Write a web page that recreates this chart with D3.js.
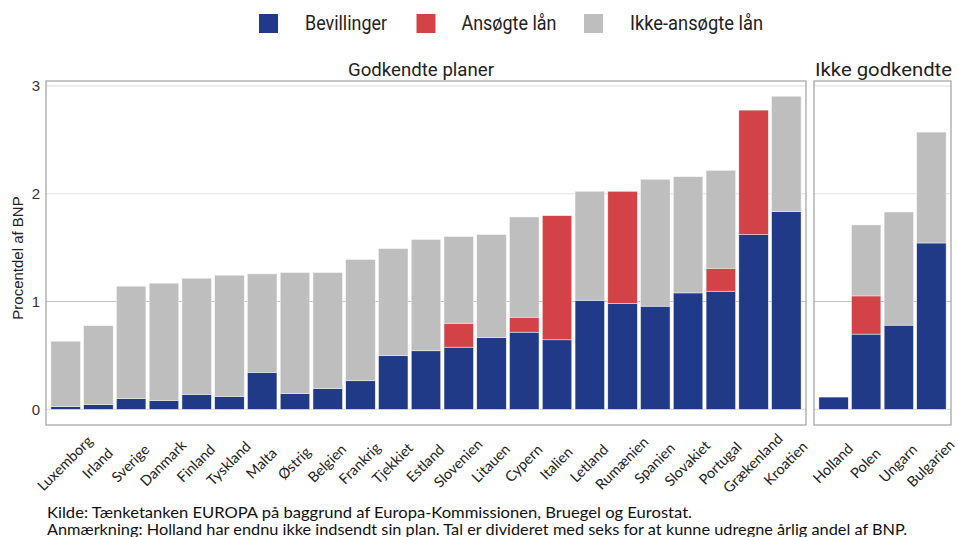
<!DOCTYPE html>
<html><head><meta charset="utf-8">
<script src="https://cdn.jsdelivr.net/npm/d3@7"></script>
<style>body{margin:0;background:#fff}svg{display:block}</style>
</head><body>
<svg id="c" width="958" height="537"></svg>
<script>
const leftCountries = ["Luxemborg","Irland","Sverige","Danmark","Finland","Tyskland","Malta","Østrig","Belgien","Frankrig","Tjekkiet","Estland","Slovenien","Litauen","Cypern","Italien","Letland","Rumænien","Spanien","Slovakiet","Portugal","Grækenland","Kroatien"];
const leftBevillinger = [0.025,0.043,0.10,0.08,0.139,0.12,0.343,0.145,0.194,0.265,0.497,0.543,0.577,0.664,0.716,0.645,1.012,0.984,0.957,1.08,1.096,1.62,1.833];
const leftAnsogte     = [0,0,0,0,0,0,0,0,0,0,0,0,0.222,0,0.139,1.151,0,1.038,0,0,0.213,1.155,0];
const leftIkke        = [0.607,0.732,1.042,1.09,1.077,1.124,0.913,1.123,1.074,1.124,0.993,1.031,0.803,0.956,0.929,0,1.01,0,1.176,1.077,0.907,0,1.071];

const rightCountries = ["Holland","Polen","Ungarn","Bulgarien"];
const rightBevillinger = [0.114,0.698,0.781,1.543];
const rightAnsogte     = [0,0.354,0,0];
const rightIkke        = [0,0.658,1.049,1.028];

const seriesKeys = ["Bevillinger","Ansøgte lån","Ikke-ansøgte lån"];
const seriesColors = ["#213A87","#D34246","#BEBEBE"];
const yTicks = [0,1,2,3];
const panelTitles = ["Godkendte planer","Ikke godkendte"];
const yTitle = "Procentdel af BNP";
const captions = ["Kilde: Tænketanken EUROPA på baggrund af Europa-Kommissionen, Bruegel og Eurostat.",
"Anmærkning: Holland har endnu ikke indsendt sin plan. Tal er divideret med seks for at kunne udregne årlig andel af BNP."];

const svg = d3.select("#c");
const color = d3.scaleOrdinal().domain(seriesKeys).range(seriesColors);
const y = d3.scaleLinear().domain([-0.145, 3.045]).range([425, 81]);

function rows(cs, b, a, k){
  return cs.map((c,i)=>({country:c, "Bevillinger":b[i], "Ansøgte lån":a[i], "Ikke-ansøgte lån":k[i]}));
}
const stack = d3.stack().keys(seriesKeys);

const panels = [
  {data: rows(leftCountries,leftBevillinger,leftAnsogte,leftIkke), x0:46, x1:806, title:panelTitles[0], tx:421, tw:146},
  {data: rows(rightCountries,rightBevillinger,rightAnsogte,rightIkke), x0:814, x1:951, title:panelTitles[1], tx:883.5, tw:137}
];

panels.forEach((p, pi)=>{
  const x = d3.scaleBand().domain(p.data.map(d=>d.country)).range([p.x0,p.x1]).paddingInner(0.1).paddingOuter(0.15);
  const g = svg.append("g");
  g.selectAll("line.grid").data(yTicks).join("line")
    .attr("x1",p.x0).attr("x2",p.x1).attr("y1",d=>y(d)).attr("y2",d=>y(d))
    .attr("stroke",d=>d===1?"#c2c2c2":"#e2e2e2").attr("stroke-width",1.1);
  const layers = stack(p.data);
  g.selectAll("g.layer").data(layers).join("g")
    .attr("fill",d=>color(d.key))
    .selectAll("rect").data(d=>d).join("rect")
    .attr("x",d=>x(d.data.country)).attr("width",x.bandwidth())
    .attr("y",d=>y(d[1])).attr("height",d=>Math.max(0,y(d[0])-y(d[1])))
    .attr("stroke",d=>(d[1]-d[0])>0?"#f4f4f4":"none").attr("stroke-width",0.5);
  g.append("rect").attr("x",p.x0).attr("y",81).attr("width",p.x1-p.x0).attr("height",425-81)
    .attr("fill","none").attr("stroke","#a8a8a8").attr("stroke-width",1.3);
  g.append("text").attr("x",p.tx).attr("y",76).attr("text-anchor","middle")
    .attr("font-family","Roboto, sans-serif").attr("font-size",19).attr("fill","#222")
    .attr("textLength",p.tw).attr("lengthAdjust","spacingAndGlyphs").text(p.title);
  g.selectAll("text.xl").data(p.data).join("text")
    .attr("transform",d=>`translate(${x(d.country)+x.bandwidth()/2-1},463) rotate(-45)`)
    .attr("text-anchor","middle").attr("dominant-baseline","central")
    .attr("font-family","Lato, sans-serif").attr("font-size",14.5).attr("fill","#222")
    .text(d=>d.country);
});

const yAxis = d3.axisLeft(y).tickValues(yTicks).tickSize(0).tickPadding(6).tickFormat(d3.format("d"));
const ya = svg.append("g").attr("transform","translate(46,0)").call(yAxis);
ya.select(".domain").remove();
ya.selectAll("text").attr("font-family","'Liberation Sans', Arial, sans-serif").attr("font-size",15).attr("fill","#333");

svg.append("text").attr("transform","translate(23,258) rotate(-90)").attr("text-anchor","middle")
  .attr("font-family","'Liberation Sans', Arial, sans-serif").attr("font-size",15).attr("fill","#222").text(yTitle);

const legendItems = [
  {key:seriesKeys[0], sx:259, tx:305, tw:82},
  {key:seriesKeys[1], sx:416.5, tx:461.5, tw:95},
  {key:seriesKeys[2], sx:584, tx:630, tw:133}
];
const lg = svg.append("g");
legendItems.forEach(it=>{
  lg.append("rect").attr("x",it.sx).attr("y",14).attr("width",19).attr("height",19).attr("fill",color(it.key));
  lg.append("text").attr("x",it.tx).attr("y",30).attr("font-family","Roboto, sans-serif").attr("font-size",20)
    .attr("fill","#222").attr("textLength",it.tw).attr("lengthAdjust","spacingAndGlyphs").text(it.key);
});

const capLengths = [645, 860];
svg.selectAll("text.cap").data(captions).join("text")
  .attr("x",47).attr("y",(d,i)=>518+i*17)
  .attr("font-family","Lato, sans-serif").attr("font-size",15).attr("fill","#111")
  .attr("textLength",(d,i)=>capLengths[i]).attr("lengthAdjust","spacingAndGlyphs").text(d=>d);
</script>
</body></html>
